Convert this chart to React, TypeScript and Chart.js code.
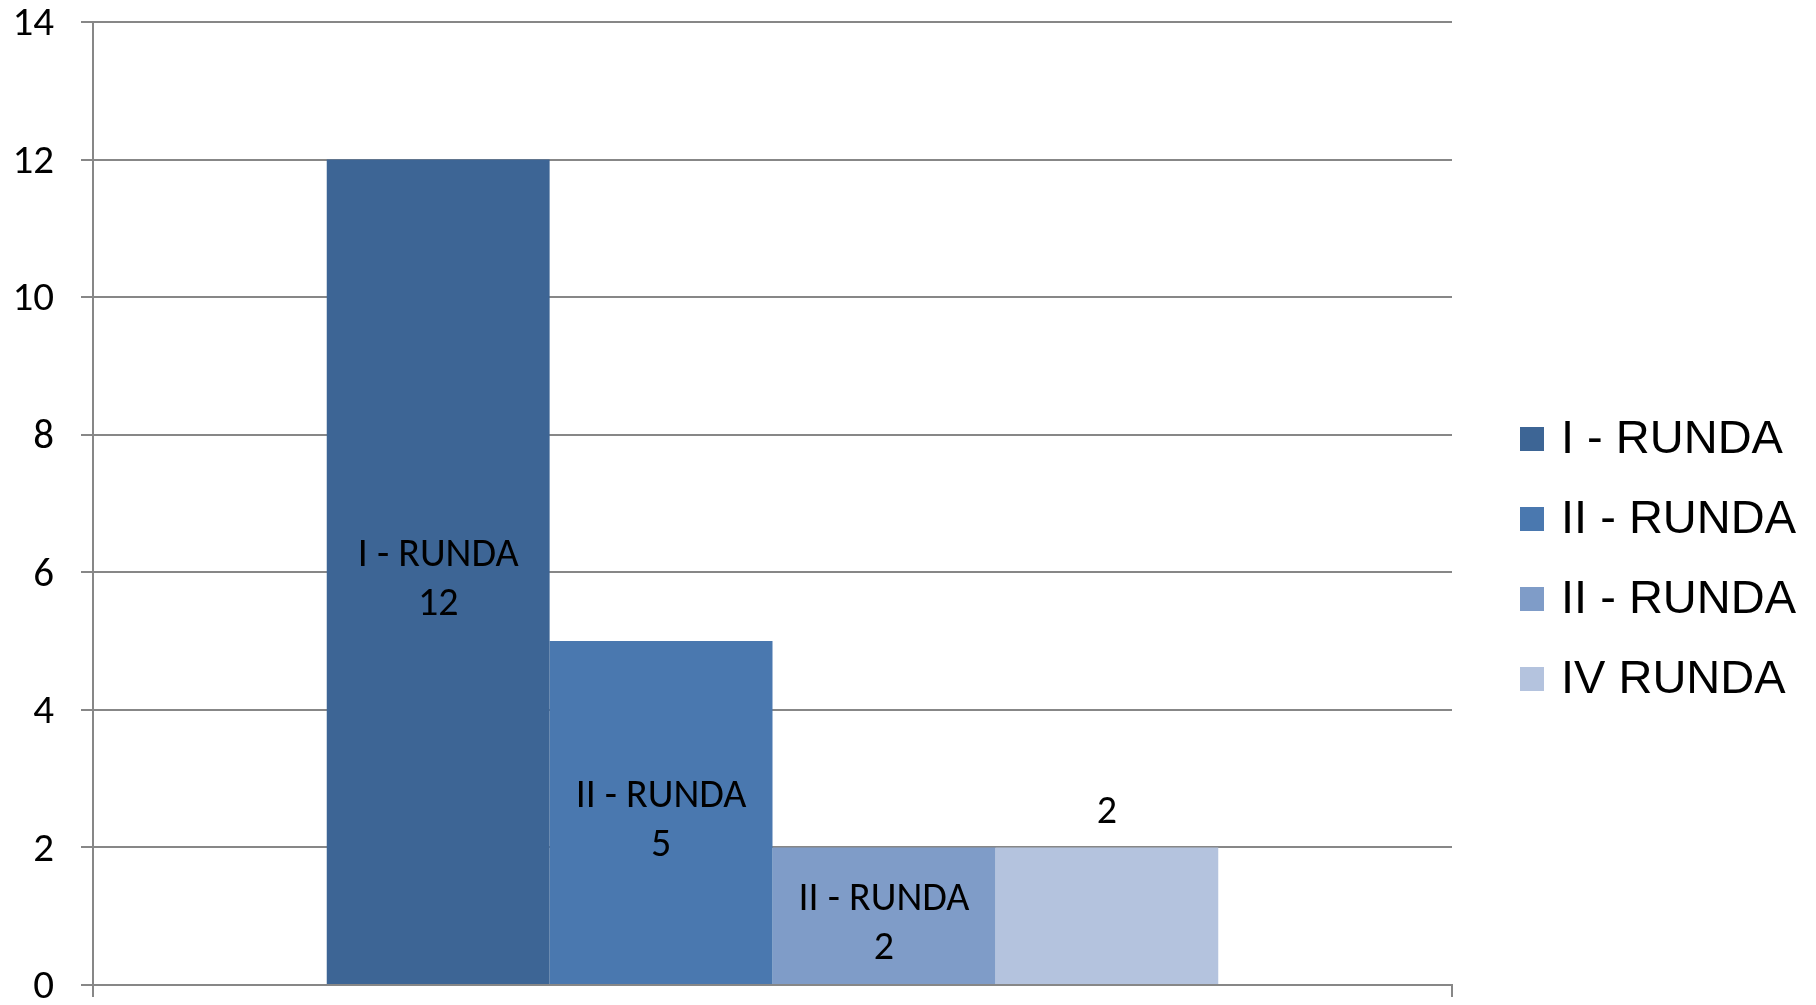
import React, { useEffect, useRef } from "react";
import { Chart, registerables } from "chart.js";

Chart.register(...registerables);

const categories = [""];
const seriesNames = ["I - RUNDA", "II - RUNDA", "II - RUNDA", "IV RUNDA"];
const seriesValues = [12, 5, 2, 2];
const seriesColors = ["#3D6595", "#4A78AF", "#7F9CC8", "#B4C3DE"];
const labelInside = [true, true, true, false];
const yMin = 0;
const yMax = 14;
const yStep = 2;

const GRID = "#878787";
const LABEL_FONT = "'Carlito', 'Open Sans', sans-serif";

const dataLabelPlugin = {
  id: "dataLabels",
  afterDatasetsDraw(chart: any) {
    const ctx = chart.ctx;
    ctx.save();
    ctx.fillStyle = "#000";
    ctx.textAlign = "center";
    ctx.textBaseline = "middle";
    ctx.font = `40px ${LABEL_FONT}`;
    chart.data.datasets.forEach((ds: any, i: number) => {
      const meta = chart.getDatasetMeta(i);
      const bar: any = meta.data[0];
      if (!bar) return;
      const value = String(ds.data[0]);
      if (labelInside[i]) {
        const cy = (bar.y + bar.base) / 2;
        ctx.fillText(ds.label, bar.x, cy - 16);
        ctx.fillText(value, bar.x, cy + 33);
      } else {
        ctx.fillText(value, bar.x, bar.y - 34);
      }
    });
    ctx.restore();
  },
};

const legendPlugin = {
  id: "customLegend",
  afterDraw(chart: any) {
    const ctx = chart.ctx;
    const boxX = chart.chartArea.right + 68;
    const textX = boxX + 41;
    const startY = 439;
    const step = 80;
    ctx.save();
    ctx.font = "47px 'Liberation Sans', Arial, sans-serif";
    ctx.textAlign = "left";
    ctx.textBaseline = "middle";
    chart.data.datasets.forEach((ds: any, i: number) => {
      const cy = startY + i * step;
      ctx.fillStyle = ds.backgroundColor;
      ctx.fillRect(boxX, cy - 12, 24, 24);
      ctx.fillStyle = "#000";
      ctx.fillText(ds.label, textX, cy + 1);
    });
    ctx.restore();
  },
};

export default function App() {
  const ref = useRef<HTMLCanvasElement>(null);

  useEffect(() => {
    if (!ref.current) return;
    const chart = new Chart(ref.current, {
      type: "bar",
      data: {
        labels: categories,
        datasets: seriesNames.map((name, i) => ({
          label: name,
          data: [seriesValues[i]],
          backgroundColor: seriesColors[i],
          borderWidth: 0,
          categoryPercentage: 0.656,
          barPercentage: 1,
        })),
      },
      options: {
        animation: false,
        responsive: false,
        maintainAspectRatio: false,
        layout: { padding: { top: 22, right: 364, left: 0, bottom: 0 } },
        plugins: {
          legend: { display: false },
          tooltip: { enabled: false },
        },
        scales: {
          x: {
            offset: true,
            grid: {
              display: true,
              drawOnChartArea: false,
              drawTicks: true,
              tickLength: 12,
              color: GRID,
              lineWidth: 2,
              offset: true,
            },
            border: { display: true, color: GRID, width: 2 },
            ticks: { display: false },
            afterFit: (scale: any) => {
              scale.height = 20;
              scale.paddingLeft = 0;
              scale.paddingRight = 0;
            },
          },
          y: {
            min: yMin,
            max: yMax,
            grid: {
              color: GRID,
              lineWidth: 2,
              tickLength: 12,
              drawTicks: true,
            },
            border: { display: true, color: GRID, width: 2 },
            ticks: {
              stepSize: yStep,
              padding: 27,
              labelOffset: 3,
              color: "#000",
              font: { family: LABEL_FONT, size: 41 },
            },
            afterFit: (scale: any) => {
              scale.width = 93;
              scale.paddingTop = 0;
              scale.paddingBottom = 0;
            },
          },
        },
      },
      plugins: [dataLabelPlugin, legendPlugin],
    });
    return () => chart.destroy();
  }, []);

  return (
    <div style={{ position: "fixed", left: 0, top: 0, width: 1816, height: 1005, background: "#fff" }}>
      <canvas ref={ref} width={1816} height={1005} style={{ display: "block" }} />
    </div>
  );
}
